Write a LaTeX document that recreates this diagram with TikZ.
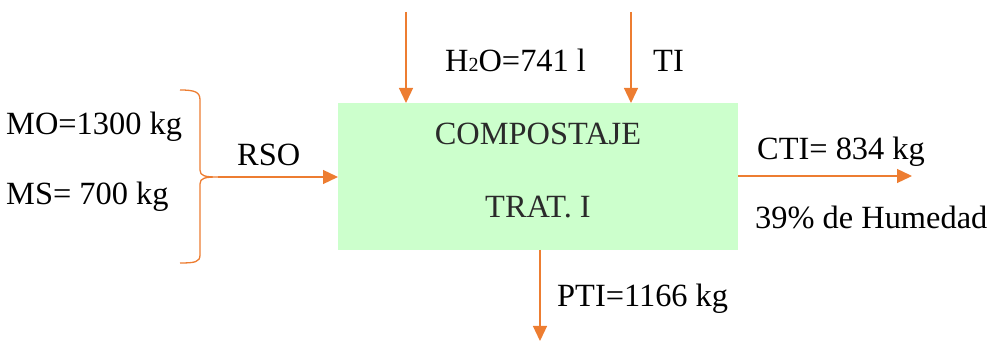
\documentclass[tikz,border=0pt]{standalone}
\usepackage{fontspec}
\setmainfont{Liberation Serif}
\usetikzlibrary{arrows.meta}
\definecolor{flow}{HTML}{ED7D31}
\definecolor{boxfill}{HTML}{CCFFCC}
\definecolor{boxtext}{HTML}{2A2A2A}
\tikzset{
  flowline/.style={draw=flow, line width=1.3pt, -{Triangle[length=15pt,width=14pt]}},
  lbl/.style={font=\fontsize{32.4}{38}\selectfont, inner sep=0pt, anchor=base west},
  procbox/.style={fill=boxfill, draw=none, minimum width=400pt, minimum height=147pt, inner sep=0pt},
}
\begin{document}
\begin{tikzpicture}[x=1pt,y=-1pt]
\useasboundingbox (0,0) rectangle (991,344);
\node[procbox] (box) at (538,176.5) {};
\node[lbl, anchor=base, text=boxtext] (comp) at (538,145) {COMPOSTAJE};
\node[lbl, anchor=base, text=boxtext] (trat) at (538,218) {TRAT. I};
% top inputs
\coordinate (h2otop) at (406,12);
\coordinate (h2oend) at (406,103);
\coordinate (titop) at (631,12);
\coordinate (tiend) at (631,103);
\draw[flowline] (h2otop) -- (h2oend);
\draw[flowline] (titop) -- (tiend);
\node[lbl] (h2o) at (445,72) {H{\fontsize{20}{24}\selectfont 2}O=741 l};
\node[lbl] (ti) at (653,72) {TI};
% left brace
\coordinate (bt) at (180,90);
\coordinate (bb) at (180,263);
\coordinate (btip) at (218,177);
\draw[draw=flow, line width=1.3pt] (bt) .. controls (195,90) and (200,92) .. (200,100)
  -- (200,170) .. controls (200,176) and (205,177) .. (btip)
  .. controls (205,177) and (200,178) .. (200,184)
  -- (200,255) .. controls (200,262) and (195,263) .. (bb);
\coordinate (rsoend) at (338,177);
\draw[flowline] (btip) -- (rsoend);
\node[lbl] (rso) at (237,166) {RSO};
\node[lbl] (mo) at (6,135) {MO=1300 kg};
\node[lbl] (ms) at (6,205) {MS= 700 kg};
% right output
\coordinate (ctistart) at (738,176);
\coordinate (ctiend) at (912,176);
\draw[flowline] (ctistart) -- (ctiend);
\node[lbl] (cti) at (757,160) {CTI= 834 kg};
\node[lbl] (hum) at (755,229) {39\% de Humedad};
% bottom output
\coordinate (ptistart) at (540,250);
\coordinate (ptiend) at (540,341);
\draw[flowline] (ptistart) -- (ptiend);
\node[lbl] (pti) at (557,307) {PTI=1166 kg};
\end{tikzpicture}
\end{document}
